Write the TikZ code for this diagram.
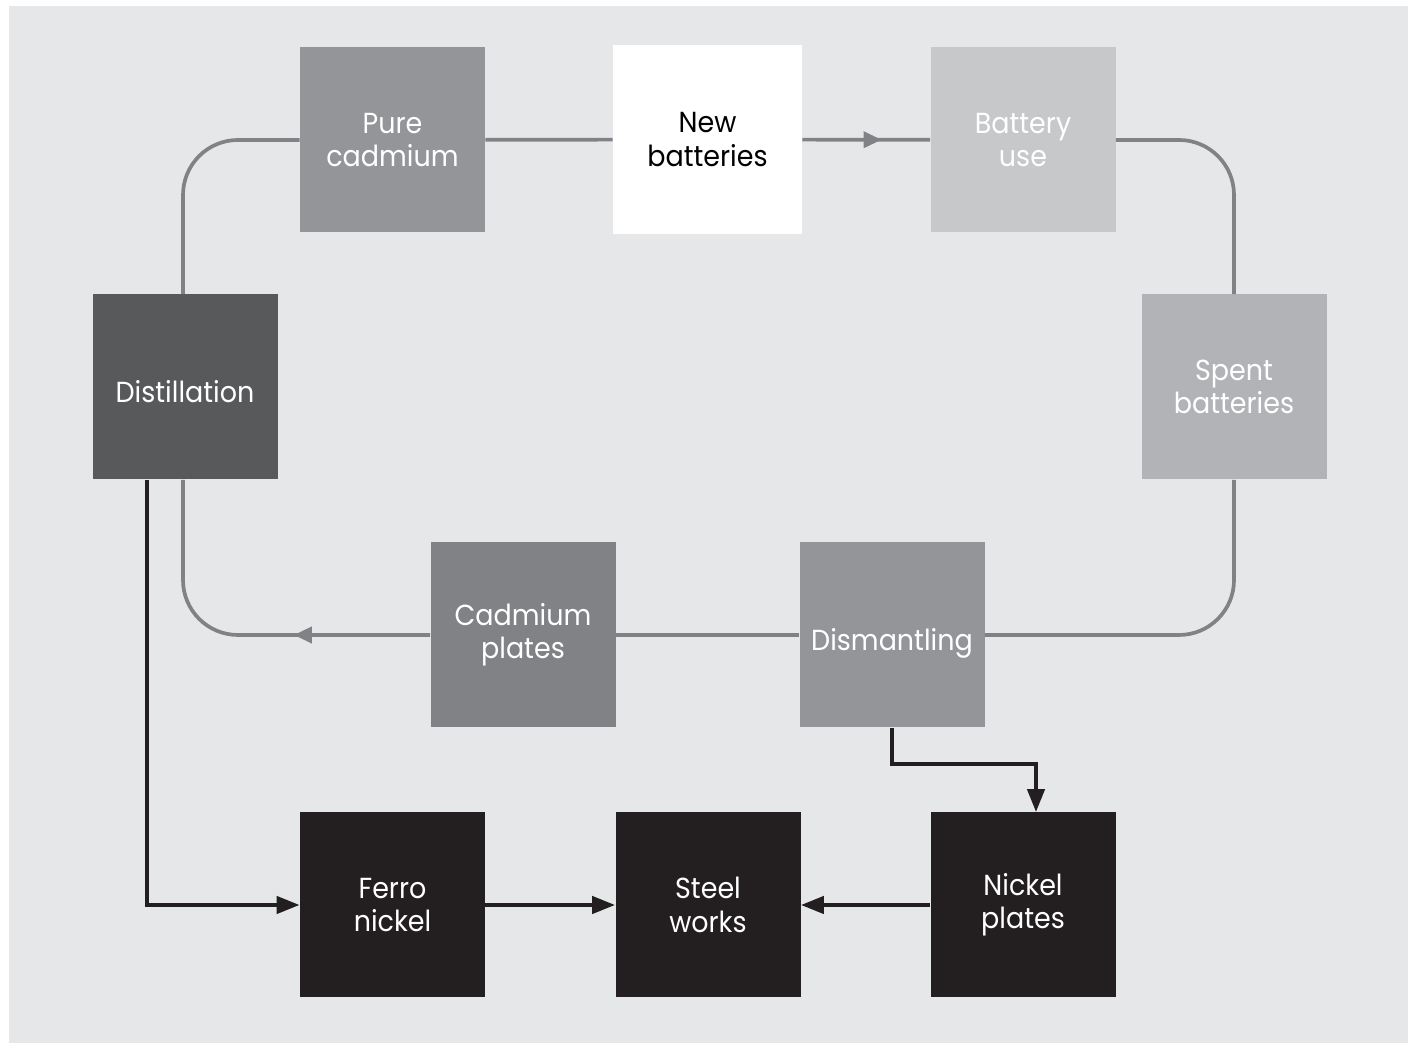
\documentclass[tikz,border=0pt]{standalone}
\usepackage{fontspec}
\setmainfont{Poppins}[FakeStretch=0.93]
\usetikzlibrary{arrows.meta,decorations.markings}

\definecolor{backgr}{HTML}{E6E7E8}
\definecolor{loopgray}{HTML}{808285}
\definecolor{midgray}{HTML}{939598}
\definecolor{lightgray}{HTML}{C7C8CA}
\definecolor{spentgray}{HTML}{B1B3B6}
\definecolor{distgray}{HTML}{58595B}
\definecolor{nearblack}{HTML}{231F20}

\tikzset{
  stage/.style={minimum width=3.7cm,minimum height=3.7cm,inner sep=0pt,
    align=center,text=white,font=\fontsize{16.5}{19}\selectfont},
  loopline/.style={draw=loopgray,line width=2.1pt,rounded corners=1.1cm},
  flow/.style={draw=nearblack,line width=2.4pt,
    -{Triangle[length=4.6mm,width=3.4mm]}},
  tipat/.style={postaction={decorate},decoration={markings,
    mark=at position #1 with {\arrow{Triangle[length=3.6mm,width=3.2mm]}}}}
}

\begin{document}
\begin{tikzpicture}
\fill[white] (0,0) rectangle (28.2,20.88);
\fill[backgr] (0.18,0.02) rectangle (28.16,20.76);

% the cadmium loop
\node[stage,fill=midgray] (pure) at (7.85,18.08) {Pure\\cadmium};
\node[stage,fill=white,text=black,minimum width=3.78cm,minimum height=3.78cm] (newbat) at (14.15,18.09) {New\\batteries};
\node[stage,fill=lightgray] (use) at (20.46,18.08) {Battery\\use};
\node[stage,fill=spentgray] (spent) at (24.68,13.14) {Spent\\batteries};
\node[stage,fill=midgray] (dism) at (17.84,8.18) {\raisebox{-1.6mm}[\height][\depth]{Dismantling}};
\node[stage,fill=loopgray] (cdplates) at (10.46,8.18) {Cadmium\\plates};
\node[stage,fill=distgray] (dist) at (3.70,13.14) {\raisebox{-1mm}[\height][\depth]{Distillation}};

% the nickel line
\node[stage,fill=nearblack] (ferro) at (7.85,2.78) {Ferro\\nickel};
\node[stage,fill=nearblack] (steel) at (14.16,2.78) {Steel\\works};
\node[stage,fill=nearblack] (nickel) at (20.46,2.78) {Nickel\\plates};

\draw[loopline] (pure) -- (newbat);
\draw[loopline,color=loopgray,tipat=0.62] (newbat) -- (use);
\draw[loopline] (use) -| (spent);
\draw[loopline] (spent) |- (dism);
\draw[loopline] (dism) -- (cdplates);
\draw[loopline,color=loopgray,tipat=0.36] (cdplates) -| ([xshift=-0.4mm]dist.south);
\draw[loopline] ([xshift=-0.4mm]dist.north) |- (pure);

\draw[flow] ([xshift=-7.6mm]dist.south) |- (ferro.west);
\draw[flow] (ferro) -- (steel);
\draw[flow] (nickel) -- (steel);
\draw[flow] (dism.south) -- ++(0,-0.72) -| ([xshift=2.6mm]nickel.north);
\end{tikzpicture}
\end{document}
